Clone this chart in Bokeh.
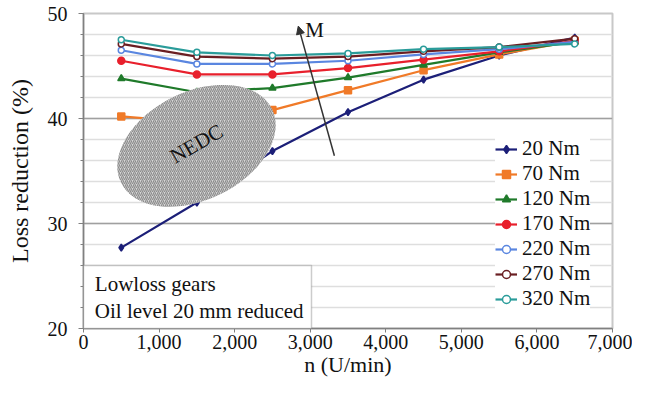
from bokeh.plotting import figure
from bokeh.embed import file_html
from bokeh.resources import INLINE
from bokeh.models import (SingleIntervalTicker, NumeralTickFormatter, BoxAnnotation,
                          Label, Arrow, NormalHead)
import math

speeds = [500, 1500, 2500, 3500, 4500, 5500, 6500]
series_names = ["20 Nm", "70 Nm", "120 Nm", "170 Nm", "220 Nm", "270 Nm", "320 Nm"]
nm20 = [27.7, 32.0, 36.9, 40.6, 43.7, 46.0, 47.7]
nm70 = [40.2, 39.6, 40.8, 42.7, 44.6, 46.1, 47.4]
nm120 = [43.8, 42.5, 42.9, 43.9, 45.1, 46.3, 47.3]
nm170 = [45.5, 44.2, 44.2, 44.8, 45.6, 46.4, 47.4]
nm220 = [46.5, 45.2, 45.2, 45.5, 46.1, 46.6, 47.3]
nm270 = [47.1, 45.9, 45.7, 45.9, 46.4, 46.8, 47.6]
nm320 = [47.5, 46.3, 46.0, 46.2, 46.6, 46.8, 47.1]
all_series = [nm20, nm70, nm120, nm170, nm220, nm270, nm320]

colors = ["#1c1f78", "#f07a28", "#1f7a2a", "#e8202c", "#5a86e0", "#6a1e22", "#2a9c9a"]
markers = ["diamond", "square", "triangle", "circle", "circle", "circle", "circle"]
fills = [None, None, None, None, "white", "white", "white"]

FONT = "Liberation Serif"
TXT = "#111111"

p = figure(width=632, height=380, x_range=(0, 7000), y_range=(20, 50),
           output_backend="svg", toolbar_location=None,
           min_border_left=83, min_border_right=20, min_border_top=13, min_border_bottom=52)

p.outline_line_color = "#c8c8c8"
p.outline_line_width = 2

# axes
p.xaxis.ticker = SingleIntervalTicker(interval=1000, num_minor_ticks=0)
p.xaxis.formatter = NumeralTickFormatter(format="0,0")
p.yaxis.ticker = SingleIntervalTicker(interval=10, num_minor_ticks=5)
for ax in (p.xaxis[0], p.yaxis[0]):
    ax.axis_line_color = "#808080"
    ax.axis_line_width = 1.5
    ax.major_tick_line_color = "#808080"
    ax.minor_tick_line_color = "#808080"
    ax.major_tick_out = 5
    ax.major_tick_in = 0
    ax.minor_tick_out = 3
    ax.minor_tick_in = 0
    ax.major_label_text_font = FONT
    ax.major_label_text_font_size = "20px"
    ax.major_label_text_color = TXT
    ax.axis_label_text_font = FONT
    ax.axis_label_text_font_style = "normal"
    ax.axis_label_text_color = TXT
p.xaxis.axis_label = "n (U/min)"
p.yaxis.axis_label = "Loss reduction (%)"
p.xaxis.axis_label_text_font_size = "22px"
p.yaxis.axis_label_text_font_size = "24px"
p.xaxis.major_tick_out = 4
p.xaxis.major_label_standoff = 2
p.xaxis.axis_label_standoff = 0
p.yaxis.major_label_standoff = 11
p.yaxis.axis_label_standoff = 12

p.xgrid.grid_line_color = None
p.ygrid.grid_line_color = "#a0a0a0"
p.ygrid.grid_line_width = 1.5
p.ygrid.minor_grid_line_color = "#dedede"
p.ygrid.minor_grid_line_width = 1.5

# series
for name, vals, c, m, f in zip(series_names, all_series, colors, markers, fills):
    p.line(speeds, vals, line_color=c, line_width=2.2, legend_label=name)
    p.scatter(speeds, vals, marker=m, size=6 if f else 7, line_color=c,
              fill_color=f if f else c, line_width=1.5, legend_label=name)

# NEDC ellipse
p.ellipse(x=[1495], y=[37.4], width=[168], height=[108], angle=math.radians(26),
          width_units="screen", height_units="screen",
          fill_color="#d6d6d6", line_color=None,
          hatch_pattern="right_diagonal_line", hatch_color="#8c8c8c",
          hatch_scale=4, hatch_weight=1.2)
p.add_layout(Label(x=1495, y=37.6, text="NEDC", angle=math.radians(30),
                   text_align="center", text_baseline="middle",
                   text_font=FONT, text_font_size="21px", text_color=TXT))

# M arrow
p.add_layout(Arrow(x_start=3320, y_start=36.45, x_end=2842, y_end=48.8,
                   line_color="#333333", line_width=1.5,
                   end=NormalHead(size=8, fill_color="#333333", line_color="#333333")))
p.add_layout(Label(x=2935, y=48.4, text="M", text_align="left", text_baseline="middle",
                   text_font=FONT, text_font_size="21px", text_color=TXT))

# note box
p.add_layout(BoxAnnotation(left=0, right=3017, bottom=20, top=26.0,
                           fill_color="white", fill_alpha=1,
                           line_color="#555555", line_width=1.5))
p.add_layout(Label(x=150, y=24.2, text="Lowloss gears", text_baseline="middle",
                   text_font=FONT, text_font_size="21px", text_color=TXT))
p.add_layout(Label(x=150, y=21.7, text="Oil level 20 mm reduced", text_baseline="middle",
                   text_font=FONT, text_font_size="21px", text_color=TXT))

# legend
leg = p.legend[0]
leg.location = (412, 17)
leg.background_fill_color = "white"
leg.background_fill_alpha = 1
leg.border_line_color = None
leg.label_text_font = FONT
leg.label_text_font_size = "21px"
leg.label_text_color = TXT
leg.glyph_width = 22
leg.glyph_height = 20
leg.label_height = 20
leg.spacing = 0
leg.padding = 3
leg.label_standoff = 5
leg.margin = 0

open("out.html", "w").write(file_html(p, INLINE))
